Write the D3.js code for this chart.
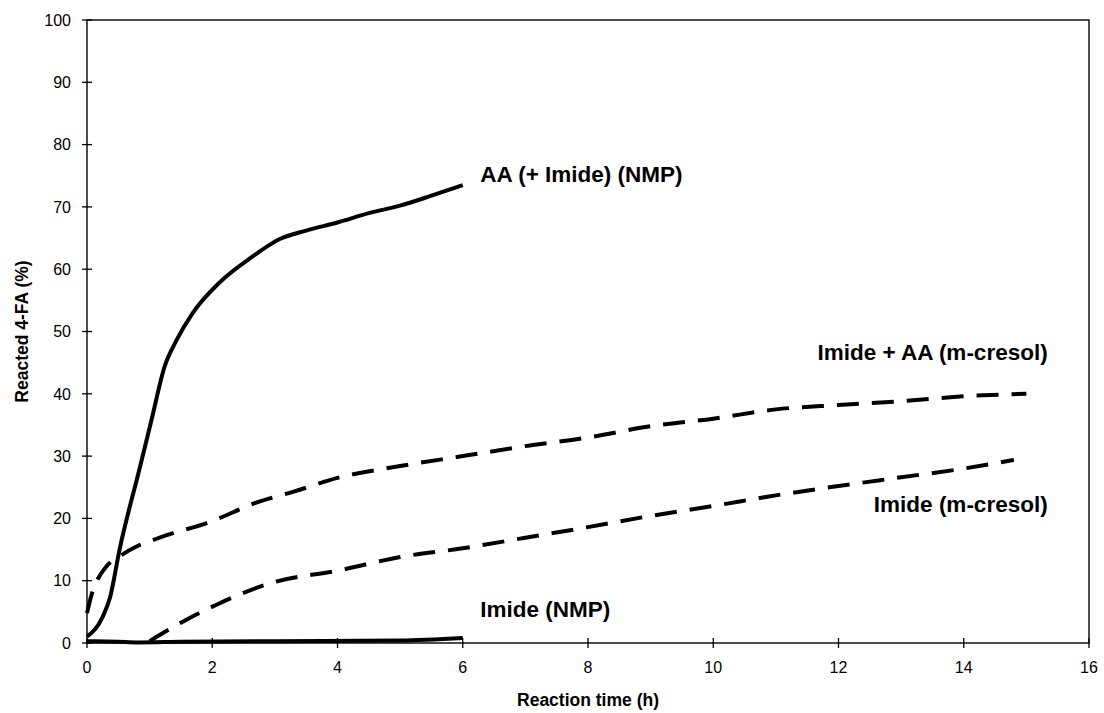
<!DOCTYPE html>
<html>
<head>
<meta charset="utf-8">
<script src="https://cdn.jsdelivr.net/npm/d3@7"></script>
<style>
  body { margin: 0; background: #fff; }
  svg { font-family: "Liberation Sans", Arial, sans-serif; }
</style>
</head>
<body>
<svg id="chart"></svg>
<script>
const width = 1104;
const height = 713;
const margin = {top: 20, right: 12, bottom: 70, left: 87};

// curve values: [time h, reacted %]
const aaImideNmp = [
  [0, 1], [0.25, 4.2], [0.37, 7.4], [0.52, 15], [0.84, 28], [1.03, 35.8], [1.24, 44.4],
  [1.43, 48.6], [1.69, 53], [2.11, 57.8], [2.64, 62], [3.07, 64.8], [3.5, 66.2], [4, 67.5],
  [4.5, 69], [5, 70.2], [5.5, 71.8], [6, 73.5]
];
const imideAaCresol = [
  [0, 4.8], [0.08, 8], [0.15, 9.8], [0.31, 12.3], [0.52, 13.9], [0.79, 15.5], [1.0, 16.3],
  [1.27, 17.3], [1.9, 19.2], [2.75, 22.7], [3.3, 24.3], [4, 26.5], [5, 28.4], [6, 30],
  [7, 31.6], [8, 33], [9, 34.8], [10, 36], [11, 37.5], [12, 38.2], [13, 38.8], [14, 39.6], [15, 40]
];
const imideCresol = [
  [1.0, 0.3], [1.58, 3.7], [2.06, 6.1], [2.75, 9], [3, 9.8], [4, 11.6], [5, 13.8], [6, 15.2],
  [7, 16.9], [8, 18.6], [9, 20.4], [10, 22], [11, 23.7], [12, 25.2], [13, 26.6], [14, 28], [14.8, 29.4]
];
const imideNmp = [
  [0, 0.3], [0.5, 0.2], [0.8, 0.1], [1.5, 0.2], [3, 0.3], [5, 0.4], [6, 0.8]
];

const xTicks = [0, 2, 4, 6, 8, 10, 12, 14, 16];
const yTicks = [0, 10, 20, 30, 40, 50, 60, 70, 80, 90, 100];

const curves = [
  {name: 'AA (+ Imide) (NMP)', values: aaImideNmp, dash: null},
  {name: 'Imide + AA (m-cresol)', values: imideAaCresol, dash: '22,13'},
  {name: 'Imide (m-cresol)', values: imideCresol, dash: '22,13'},
  {name: 'Imide (NMP)', values: imideNmp, dash: null}
];

// label placement: [time, value, anchor]
const labels = [
  {text: 'AA (+ Imide) (NMP)', t: 6.28, v: 74.0, anchor: 'start'},
  {text: 'Imide + AA (m-cresol)', t: 15.34, v: 45.4, anchor: 'end'},
  {text: 'Imide (m-cresol)', t: 15.34, v: 21.0, anchor: 'end'},
  {text: 'Imide (NMP)', t: 6.28, v: 4.2, anchor: 'start'}
];

const svg = d3.select('#chart')
  .attr('width', width)
  .attr('height', height);

const x = d3.scaleLinear().domain([0, 16]).range([margin.left, width - margin.right - 3]);
const y = d3.scaleLinear().domain([0, 100]).range([height - margin.bottom, margin.top]);

// frame
svg.append('rect')
  .attr('x', x(0)).attr('y', y(100))
  .attr('width', x(16) - x(0)).attr('height', y(0) - y(100))
  .attr('fill', 'none').attr('stroke', '#000').attr('stroke-width', 1.4);

// y axis ticks crossing the axis
const yAxis = svg.append('g');
yAxis.selectAll('line').data(yTicks).enter().append('line')
  .attr('x1', x(0) - 5).attr('x2', x(0) + 5)
  .attr('y1', d => y(d)).attr('y2', d => y(d))
  .attr('stroke', '#000').attr('stroke-width', 1.3);
yAxis.selectAll('text').data(yTicks).enter().append('text')
  .attr('x', x(0) - 16).attr('y', d => y(d))
  .attr('dy', '0.36em')
  .attr('text-anchor', 'end')
  .attr('font-size', 16)
  .text(d => d);

const xAxis = svg.append('g');
xAxis.selectAll('line').data(xTicks).enter().append('line')
  .attr('x1', d => x(d)).attr('x2', d => x(d))
  .attr('y1', y(0) - 5).attr('y2', y(0) + 5)
  .attr('stroke', '#000').attr('stroke-width', 1.3);
xAxis.selectAll('text').data(xTicks).enter().append('text')
  .attr('x', d => x(d)).attr('y', y(0) + 30)
  .attr('text-anchor', 'middle')
  .attr('font-size', 16)
  .text(d => d);

// axis titles
svg.append('text')
  .attr('x', (x(0) + x(16)) / 2).attr('y', 706)
  .attr('text-anchor', 'middle')
  .attr('font-size', 17.5).attr('font-weight', 'bold')
  .text('Reaction time (h)');

svg.append('text')
  .attr('transform', `translate(28, ${(y(0) + y(100)) / 2}) rotate(-90)`)
  .attr('text-anchor', 'middle')
  .attr('font-size', 17.5).attr('font-weight', 'bold')
  .text('Reacted 4-FA (%)');

const line = d3.line()
  .x(d => x(d[0]))
  .y(d => y(d[1]))
  .curve(d3.curveMonotoneX);

svg.selectAll('.curve')
  .data(curves)
  .enter().append('path')
  .attr('class', 'curve')
  .attr('d', d => line(d.values))
  .attr('fill', 'none')
  .attr('stroke', '#000')
  .attr('stroke-width', 4)
  .attr('stroke-dasharray', d => d.dash);

svg.selectAll('.lbl')
  .data(labels)
  .enter().append('text')
  .attr('class', 'lbl')
  .attr('x', d => x(d.t)).attr('y', d => y(d.v))
  .attr('text-anchor', d => d.anchor)
  .attr('font-size', 22.5).attr('font-weight', 'bold')
  .text(d => d.text);
</script>
</body>
</html>
